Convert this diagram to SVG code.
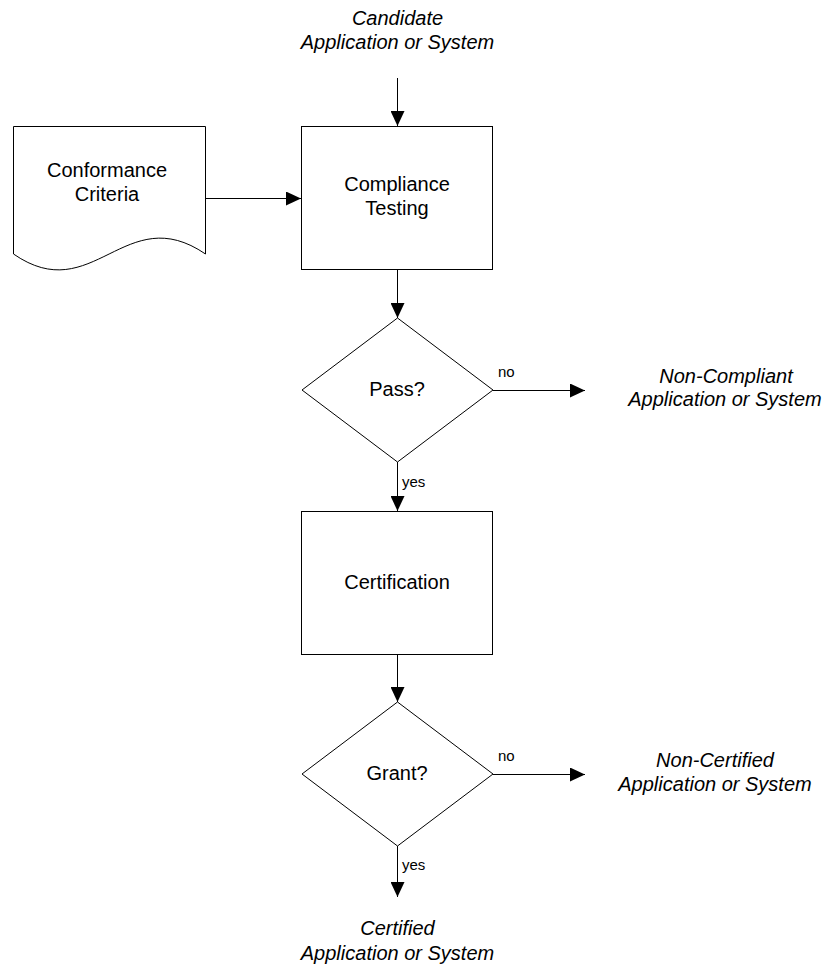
<svg xmlns="http://www.w3.org/2000/svg" width="831" height="967" viewBox="0 0 831 967">
<style>
.shape{fill:#fff;stroke:#000;stroke-width:1}
.conn{fill:none;stroke:#000;stroke-width:1;marker-end:url(#ah)}
.lbl{font-family:"Liberation Sans",Arial,sans-serif;font-size:20px;fill:#000;text-anchor:middle}
.it{font-family:"Liberation Sans",Arial,sans-serif;font-size:20px;font-style:italic;fill:#000;text-anchor:middle}
.sm{font-family:"Liberation Sans",Arial,sans-serif;font-size:15px;fill:#000}
</style>
<defs>
<marker id="ah" markerWidth="15" markerHeight="14" refX="15" refY="7" orient="auto" markerUnits="userSpaceOnUse">
<path d="M0,0 L15,7 L0,14 Z" fill="#000"/>
</marker>
</defs>
<rect width="831" height="967" fill="#fff"/>
<g id="candidate">
<text class="it" x="397.5" y="25">Candidate</text>
<text class="it" x="397.5" y="49">Application or System</text>
</g>
<g id="conformance">
<path class="shape" d="M13.5,126.5 H205.5 V254 C125,199 93,309 13.5,254 Z"/>
<text class="lbl" x="107" y="177">Conformance</text>
<text class="lbl" x="107" y="201">Criteria</text>
</g>
<g id="compliance">
<rect class="shape" x="301.5" y="126.5" width="191" height="143"/>
<text class="lbl" x="397" y="191">Compliance</text>
<text class="lbl" x="397" y="215">Testing</text>
</g>
<g id="pass">
<path class="shape" d="M397.5,318 L493,390 L397.5,462 L302,390 Z"/>
<text class="lbl" x="397" y="396">Pass?</text>
</g>
<g id="noncompliant">
<text class="it" x="726" y="383">Non-Compliant</text>
<text class="it" x="725" y="406">Application or System</text>
</g>
<g id="certification">
<rect class="shape" x="301.5" y="511.5" width="191" height="143"/>
<text class="lbl" x="397" y="589">Certification</text>
</g>
<g id="grant">
<path class="shape" d="M397.5,702 L493,774 L397.5,846 L302,774 Z"/>
<text class="lbl" x="397" y="780">Grant?</text>
</g>
<g id="noncertified">
<text class="it" x="715" y="767">Non-Certified</text>
<text class="it" x="715" y="791">Application or System</text>
</g>
<g id="certified">
<text class="it" x="397.5" y="935">Certified</text>
<text class="it" x="397.5" y="960">Application or System</text>
</g>
<g id="connectors">
<path class="conn" d="M397.5,78 V126"/>
<path class="conn" d="M206,198.5 H301"/>
<path class="conn" d="M397.5,270 V318"/>
<path class="conn" d="M493,390.5 H585"/>
<path class="conn" d="M397.5,462 V511"/>
<path class="conn" d="M397.5,655 V702"/>
<path class="conn" d="M493,774.5 H585"/>
<path class="conn" d="M397.5,846 V897"/>
<text class="sm" x="498" y="377">no</text>
<text class="sm" x="402" y="487">yes</text>
<text class="sm" x="498" y="761">no</text>
<text class="sm" x="402" y="870">yes</text>
</g>
</svg>
